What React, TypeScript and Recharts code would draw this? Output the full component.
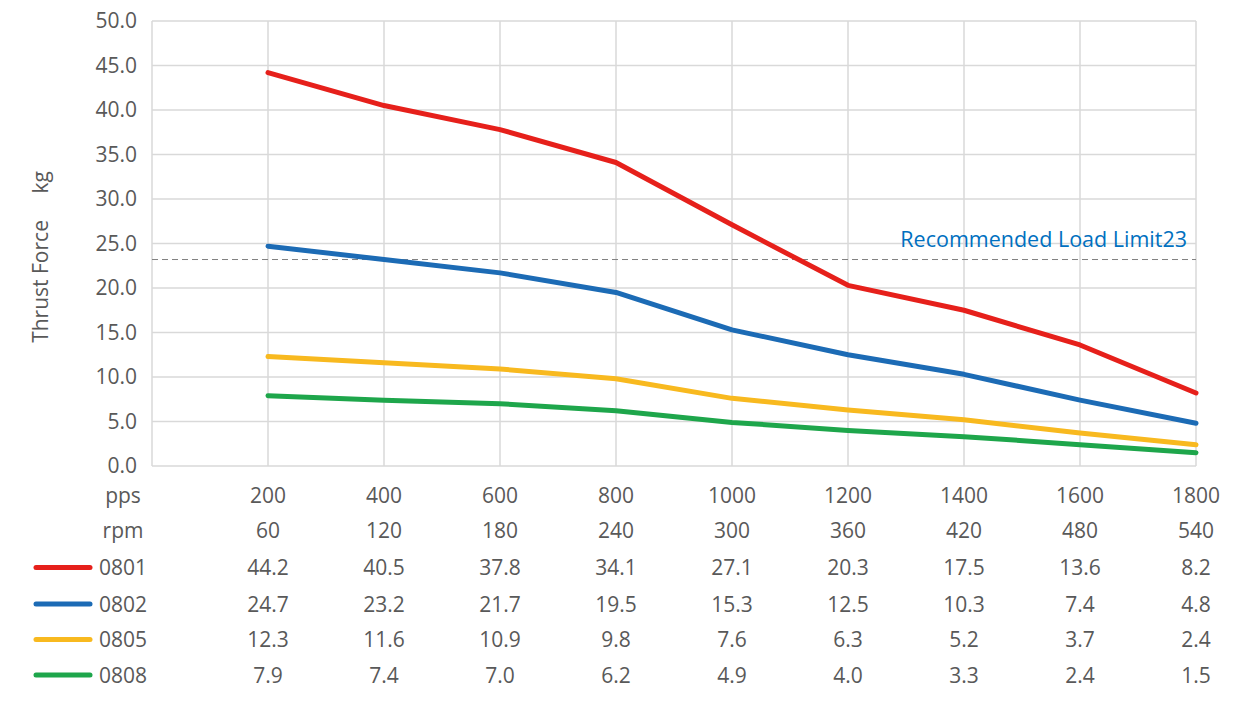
import React from 'react';
import { LineChart, Line, XAxis, YAxis, CartesianGrid, ReferenceLine } from 'recharts';

const ppsValues = [200, 400, 600, 800, 1000, 1200, 1400, 1600, 1800];
const rpmValues = [60, 120, 180, 240, 300, 360, 420, 480, 540];
const s0801 = [44.2, 40.5, 37.8, 34.1, 27.1, 20.3, 17.5, 13.6, 8.2];
const s0802 = [24.7, 23.2, 21.7, 19.5, 15.3, 12.5, 10.3, 7.4, 4.8];
const s0805 = [12.3, 11.6, 10.9, 9.8, 7.6, 6.3, 5.2, 3.7, 2.4];
const s0808 = [7.9, 7.4, 7.0, 6.2, 4.9, 4.0, 3.3, 2.4, 1.5];
const yTicks = [0, 5, 10, 15, 20, 25, 30, 35, 40, 45, 50];
const xTicks = [0, 200, 400, 600, 800, 1000, 1200, 1400, 1600, 1800];
const loadLimit = 23.2;

const seriesList = [
  { key: 's0801', name: '0801', values: s0801, color: '#E6201B' },
  { key: 's0802', name: '0802', values: s0802, color: '#1C6BB5' },
  { key: 's0805', name: '0805', values: s0805, color: '#F8B91F' },
  { key: 's0808', name: '0808', values: s0808, color: '#1EA64B' },
];

const data = ppsValues.map((pps, i) => {
  const row: any = { pps, rpm: rpmValues[i] };
  seriesList.forEach((s) => (row[s.key] = s.values[i]));
  return row;
});

const FONT = '"Open Sans", "Noto Sans", sans-serif';
const TEXT = '#595959';
const FS = 21;
// row centers relative to axis line (plot bottom)
const rowOffsets = [29, 64.5, 101.5, 138, 173.5, 209];

const XTick = (props: any) => {
  const { x, y, payload } = props;
  const v = payload.value;
  const base = y;
  if (v === 0) {
    const labels = ['pps', 'rpm', ...seriesList.map((s) => s.name)];
    return (
      <g>
        {labels.map((l, i) => (
          <text key={l} x={123} y={base + rowOffsets[i] + 7.5} textAnchor="middle" fill={TEXT} fontSize={FS} fontFamily={FONT}>
            {l}
          </text>
        ))}
        {seriesList.map((s, i) => (
          <line key={s.key} x1={36} x2={90} y1={base + rowOffsets[i + 2]} y2={base + rowOffsets[i + 2]} stroke={s.color} strokeWidth={5} strokeLinecap="round" />
        ))}
      </g>
    );
  }
  const idx = ppsValues.indexOf(v);
  if (idx < 0) return null;
  const vals = [String(ppsValues[idx]), String(rpmValues[idx]), ...seriesList.map((s) => s.values[idx].toFixed(1))];
  return (
    <g>
      {vals.map((t, i) => (
        <text key={i} x={x} y={base + rowOffsets[i] + 7.5} textAnchor="middle" fill={TEXT} fontSize={FS} fontFamily={FONT}>
          {t}
        </text>
      ))}
    </g>
  );
};

const YLabel = () => {
  const cx = 40;
  const cy = 257;
  return (
    <text x={cx} y={cy} transform={`rotate(-90, ${cx}, ${cy})`} textAnchor="middle" dominantBaseline="central" fill={TEXT} fontSize={21} fontFamily={FONT} xmlSpace="preserve" style={{ whiteSpace: 'pre' }}>
      {'Thrust Force\u2003\u00a0kg'}
    </text>
  );
};

const RefLabel = (props: any) => {
  const vb = props.viewBox || {};
  return (
    <text x={vb.x + vb.width - 9} y={vb.y - 13} textAnchor="end" fill="#0070C0" fontSize={21.5} fontFamily={FONT}>
      Recommended Load Limit23
    </text>
  );
};

export default function App() {
  return (
    <div style={{ position: 'absolute', left: 0, top: 0, width: 1239, height: 701, background: '#fff' }}>
      <LineChart width={1239} height={701} data={data} margin={{ top: 21, right: 43, bottom: 0, left: 0 }}>
        <CartesianGrid stroke="#D9D9D9" strokeWidth={1.5} />
        <XAxis
          dataKey="pps"
          type="number"
          domain={[0, 1800]}
          ticks={xTicks}
          interval={0}
          height={235}
          axisLine={false}
          tickLine={false}
          tickSize={0}
          tickMargin={0}
          tick={<XTick />}
        />
        <YAxis
          type="number"
          domain={[0, 50]}
          ticks={yTicks}
          interval={0}
          width={152}
          axisLine={false}
          tickLine={false}
          tickSize={0}
          tickMargin={15}
          tickFormatter={(v: number) => v.toFixed(1)}
          tick={{ fill: TEXT, fontSize: FS, fontFamily: FONT }}
          label={<YLabel />}
        />
        <ReferenceLine y={loadLimit} stroke="#808080" strokeWidth={1} strokeDasharray="6 4" label={<RefLabel />} />
        {seriesList.map((s) => (
          <Line
            key={s.key}
            dataKey={s.key}
            name={s.name}
            type="linear"
            stroke={s.color}
            strokeWidth={5}
            strokeLinecap="round"
            strokeLinejoin="round"
            dot={false}
            activeDot={false}
            isAnimationActive={false}
          />
        ))}
      </LineChart>
    </div>
  );
}
